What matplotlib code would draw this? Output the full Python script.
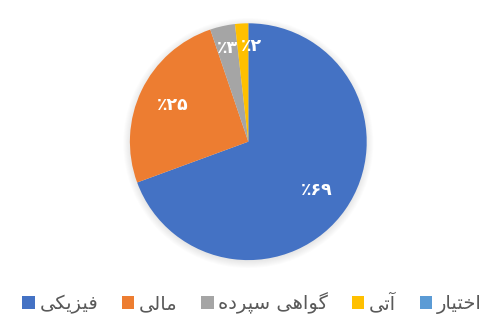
import matplotlib

matplotlib.use('Agg')
import matplotlib.pyplot as plt
import numpy as np
from matplotlib.patches import Circle
from matplotlib.font_manager import findfont, FontProperties
from matplotlib.ft2font import FT2Font

# داده‌ها
labels = ['فیزیکی', 'مالی', 'گواهی سپرده', 'آتی', 'اختیار']
values = [69.4, 25.4, 3.4, 1.8, 0.0]
colors = ['#4472C4', '#ED7D31', '#A5A5A5', '#FFC000', '#5B9BD5']

# matplotlib حروف فارسی را نمی‌چسباند، پس شکل‌های نمایشی را خودمان می‌سازیم
FORMS = {
    'ا': (0xFE8D, 0xFE8E), 'آ': (0xFE81, 0xFE82), 'د': (0xFEA9, 0xFEAA),
    'ر': (0xFEAD, 0xFEAE), 'ز': (0xFEAF, 0xFEB0), 'و': (0xFEED, 0xFEEE),
    'ت': (0xFE95, 0xFE96, 0xFE97, 0xFE98), 'خ': (0xFEA5, 0xFEA6, 0xFEA7, 0xFEA8),
    'س': (0xFEB1, 0xFEB2, 0xFEB3, 0xFEB4), 'ف': (0xFED1, 0xFED2, 0xFED3, 0xFED4),
    'ل': (0xFEDD, 0xFEDE, 0xFEDF, 0xFEE0), 'م': (0xFEE1, 0xFEE2, 0xFEE3, 0xFEE4),
    'ه': (0xFEE9, 0xFEEA, 0xFEEB, 0xFEEC), 'پ': (0xFB56, 0xFB57, 0xFB58, 0xFB59),
    'گ': (0xFB92, 0xFB93, 0xFB94, 0xFB95), 'ک': (0xFB8E, 0xFB8F, 0xFB90, 0xFB91),
    'ی': (0xFBFC, 0xFBFD, 0xFBFE, 0xFBFF),
}
ALT = {'ی': (0xFEEF, 0xFEF0, 0xFEF3, 0xFEF4), 'ک': (0xFED9, 0xFEDA, 0xFEDB, 0xFEDC)}

font_name = 'DejaVu Sans'
cmap = FT2Font(findfont(FontProperties(family=font_name))).get_charmap()


def shape(text):
    out = []
    for i, ch in enumerate(text):
        if ch not in FORMS:
            out.append(ch)
            continue
        prev = text[i - 1] if i > 0 else ''
        nxt = text[i + 1] if i + 1 < len(text) else ''
        join_prev = prev in FORMS and len(FORMS[prev]) == 4
        join_next = len(FORMS[ch]) == 4 and nxt in FORMS
        if join_prev and join_next:
            k = 3
        elif join_prev:
            k = 1
        elif join_next:
            k = 2
        else:
            k = 0
        code = FORMS[ch][k]
        if code not in cmap and ch in ALT:
            code = ALT[ch][k]
        out.append(chr(code))
    return ''.join(reversed(out))


def fa_digits(n):
    return str(n).translate(str.maketrans('0123456789', '۰۱۲۳۴۵۶۷۸۹'))


fig = plt.figure(figsize=(4.99, 3.27), dpi=100)
cx, cy, r = 248.3, 141.7, 118.4
ax = fig.add_axes([(cx - r) / 499, (327 - cy - r) / 327, 2 * r / 499, 2 * r / 327])

# سایه ملایم دور دایره
for i in range(8):
    ax.add_patch(Circle((0.0, -0.012), 1.0 + 0.008 * i, color='black', alpha=0.01,
                        zorder=0, clip_on=False, lw=0))

wedges, _ = ax.pie(values, colors=colors, startangle=90, counterclock=False,
                   radius=1.0, wedgeprops=dict(linewidth=0))

total = sum(values)
for w, v in zip(wedges, values):
    if v <= 0:
        continue
    mid = np.deg2rad((w.theta1 + w.theta2) / 2)
    frac = v / total
    dist = 0.71 if frac > 0.1 else 0.81
    x, y = dist * np.cos(mid), dist * np.sin(mid)
    if frac < 0.025:
        x += 0.07
    ax.text(x, y, '٪' + fa_digits(round(v)), ha='center', va='center',
            color='white', fontsize=12.5, fontweight='bold', family=font_name)

ax.set_xlim(-1, 1)
ax.set_ylim(-1, 1)
ax.axis('off')

leg = fig.legend(wedges, [shape(s) for s in labels], loc='center',
                 bbox_to_anchor=(0.505, 0.072), ncol=5, frameon=False,
                 handlelength=0.65, handleheight=0.65, handletextpad=0.25,
                 columnspacing=1.2, prop=dict(family=font_name, size=14))
for t in leg.get_texts():
    t.set_color('#595959')

fig.savefig('out.png', dpi=100, facecolor='white')
